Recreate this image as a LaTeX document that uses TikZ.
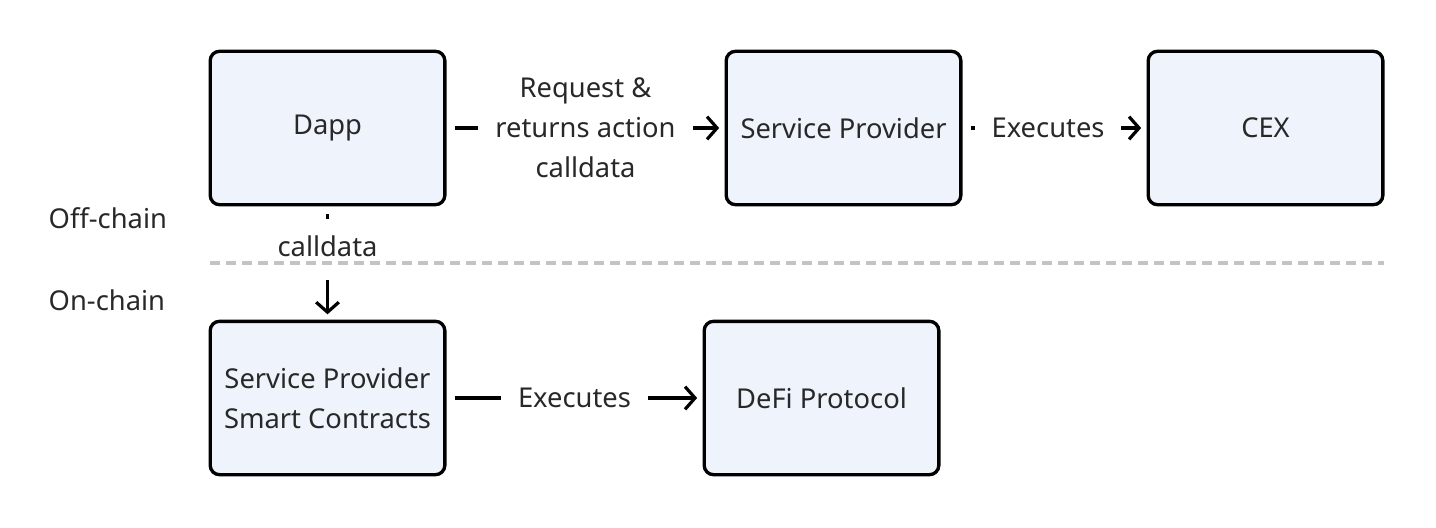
\documentclass[tikz,border=0pt]{standalone}
\usepackage{fontspec}
\setmainfont{Noto Sans}
\usetikzlibrary{arrows.meta}
\definecolor{boxfill}{RGB}{238,243,252}
\definecolor{txt}{RGB}{40,40,40}
\definecolor{sep}{RGB}{195,195,195}

\begin{document}
\begin{tikzpicture}[x=0.75pt,y=-0.75pt,
    font=\fontsize{20.5}{30}\selectfont,text=txt,
    stage/.style={draw=black,line width=2.5pt,rounded corners=7pt,fill=boxfill,
        minimum width=176pt,minimum height=115pt,align=center},
    flow/.style={line width=2.4pt,shorten <=6pt,shorten >=4pt,
        -{Straight Barb[length=7.5pt,width=17pt]}},
    lbl/.style={fill=white,align=center,inner xsep=13pt,inner ysep=2pt}]
                \useasboundingbox (0,0) rectangle (1436,528);

                \node[stage] (dapp) at (327.5,128) {Dapp};
                \node[stage] (sp) at (843.5,128) {Service Provider};
                \node[stage] (cex) at (1265.5,128) {CEX};
                \node[stage] (spsc) at (327.5,398) {Service Provider\\Smart Contracts};
                \node[stage] (defi) at (821.5,398) {DeFi Protocol};

                \node[anchor=west] (off) at (44,218) {Off-chain};
                \node[anchor=west] (on) at (44,300) {On-chain};

                \draw[flow] (dapp.east) -- (sp.west)
                    node[lbl,midway] {Request \&\\returns action\\calldata};
                \draw[flow] (sp.east) -- (cex.west)
                    node[lbl,pos=0.465,inner xsep=12.5pt] {Executes};
                \draw[flow] (dapp.south) -- (spsc.north)
                    node[lbl,pos=0.38,text height=15pt,text depth=4pt,inner ysep=13.5pt] {calldata};
                \draw[flow] (spsc.east) -- (defi.west)
                    node[lbl,midway] {Executes};

                \coordinate (sepL) at (210,263);
                \coordinate (sepR) at (1384,263);
                \draw[sep,line width=2.6pt,dash pattern=on 7.5pt off 4.5pt] (sepL) -- (sepR);
\end{tikzpicture}
\end{document}
